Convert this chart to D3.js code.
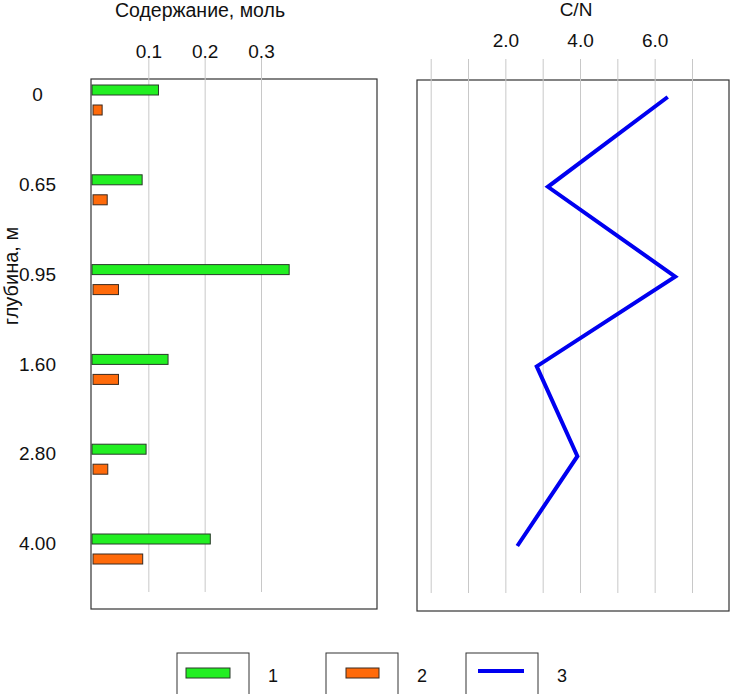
<!DOCTYPE html>
<html>
<head>
<meta charset="utf-8">
<script src="https://cdn.jsdelivr.net/npm/d3@7"></script>
<style>
  body { margin: 0; background: #fff; }
  svg { display: block; font-family: "Liberation Sans", Arial, sans-serif; }
</style>
</head>
<body>
<svg id="chart" width="730" height="694"></svg>
<script>
// ---- data ----
const depths = ["0", "0.65", "0.95", "1.60", "2.80", "4.00"];
const series1 = [0.118, 0.089, 0.350, 0.135, 0.096, 0.210];   // 1 (green)
const series2 = [0.018, 0.027, 0.047, 0.047, 0.028, 0.090];   // 2 (orange)
const cnRatio = [6.35, 3.14, 6.55, 2.84, 3.93, 2.32];         // 3 (C/N)
const leftTicks = [0.1, 0.2, 0.3];
const rightGrid = [0, 1, 2, 3, 4, 5, 6, 7];
const rightLabels = [2, 4, 6];
const legendLabels = ["1", "2", "3"];

const svg = d3.select("#chart");
const green = "#22ef22", orange = "#ff6a0a", blue = "#0000f0";
const gridColor = "#c8c8c8", frame = "#333";

// ---- scales ----
const y = d3.scalePoint().domain(depths).range([100, 549]);
const xL = d3.scaleLinear().domain([0, 0.3]).range([92, 261]);
const xR = d3.scaleLinear().domain([0, 7]).range([430.7, 692]);

// ---- left panel ----
svg.append("rect").attr("x", 91).attr("y", 79).attr("width", 286).attr("height", 530)
  .attr("fill", "#fff").attr("stroke", frame).attr("stroke-width", 1.2);

const axL = svg.append("g").attr("transform", "translate(0,58)")
  .call(d3.axisTop(xL).tickValues(leftTicks).tickFormat(d3.format(".1f")).tickSizeInner(-534).tickSizeOuter(0));
axL.select(".domain").remove();
axL.selectAll(".tick line").attr("stroke", gridColor).attr("stroke-width", 1);
axL.selectAll(".tick text").attr("y", 0).attr("dy", "0").attr("font-size", 19).attr("fill", "#111");

svg.append("g").selectAll("rect.g1").data(depths).join("rect")
  .attr("x", xL(0)).attr("y", d => y(d) - 15).attr("height", 10)
  .attr("width", (d, i) => xL(series1[i]) - xL(0))
  .attr("fill", green).attr("stroke", "#2a3a2a").attr("stroke-width", 1);
svg.append("g").selectAll("rect.g2").data(depths).join("rect")
  .attr("x", xL(0) + 1).attr("y", d => y(d) + 5).attr("height", 10)
  .attr("width", (d, i) => xL(series2[i]) - xL(0) - 1)
  .attr("fill", orange).attr("stroke", "#3a2a20").attr("stroke-width", 1);

// depth labels
svg.append("g").selectAll("text").data(depths).join("text")
  .attr("x", 37.5).attr("y", d => y(d) - 5.5).attr("dy", "0.35em")
  .attr("text-anchor", "middle").attr("font-size", 19).attr("fill", "#111").text(d => d);

svg.append("text").attr("x", 200).attr("y", 17).attr("text-anchor", "middle")
  .attr("font-size", 19.5).attr("fill", "#111").text("Содержание, моль");

svg.append("text").attr("transform", "translate(18,276) rotate(-90)")
  .attr("text-anchor", "middle").attr("font-size", 20).attr("fill", "#111").text("глубина, м");

// ---- right panel ----
svg.append("rect").attr("x", 417).attr("y", 80).attr("width", 312).attr("height", 531)
  .attr("fill", "#fff").attr("stroke", frame).attr("stroke-width", 1.2);

const axR = svg.append("g").attr("transform", "translate(0,59)")
  .call(d3.axisTop(xR).tickValues(rightGrid).tickFormat(d => rightLabels.includes(d) ? d3.format(".1f")(d) : "")
    .tickSizeInner(-534).tickSizeOuter(0));
axR.select(".domain").remove();
axR.selectAll(".tick line").attr("stroke", gridColor).attr("stroke-width", 1);
axR.selectAll(".tick text").attr("y", -12).attr("dy", "0").attr("font-size", 19).attr("fill", "#111");

svg.append("text").attr("x", 576).attr("y", 15.5).attr("text-anchor", "middle")
  .attr("font-size", 19).attr("fill", "#111").text("C/N");

const line = d3.line().x((d, i) => xR(d)).y((d, i) => y(depths[i]) - 3);
svg.append("path").datum(cnRatio).attr("d", line)
  .attr("fill", "none").attr("stroke", blue).attr("stroke-width", 4).attr("stroke-linejoin", "miter");

// ---- legend ----
const legX = [177, 326, 466];
const lg = svg.append("g");
legendLabels.forEach((lab, i) => {
  lg.append("rect").attr("x", legX[i]).attr("y", 653).attr("width", 72).attr("height", 44)
    .attr("fill", "#fff").attr("stroke", frame).attr("stroke-width", 1);
  lg.append("text").attr("x", legX[i] + 96).attr("y", 676).attr("dy", "0.35em")
    .attr("text-anchor", "middle").attr("font-size", 18).attr("fill", "#111").text(lab);
});
lg.append("rect").attr("x", 186).attr("y", 668).attr("width", 44).attr("height", 10)
  .attr("fill", green).attr("stroke", "#2a3a2a");
lg.append("rect").attr("x", 346).attr("y", 668).attr("width", 33).attr("height", 10)
  .attr("fill", orange).attr("stroke", "#3a2a20");
lg.append("line").attr("x1", 478).attr("x2", 524).attr("y1", 671).attr("y2", 671)
  .attr("stroke", blue).attr("stroke-width", 4);
</script>
</body>
</html>
